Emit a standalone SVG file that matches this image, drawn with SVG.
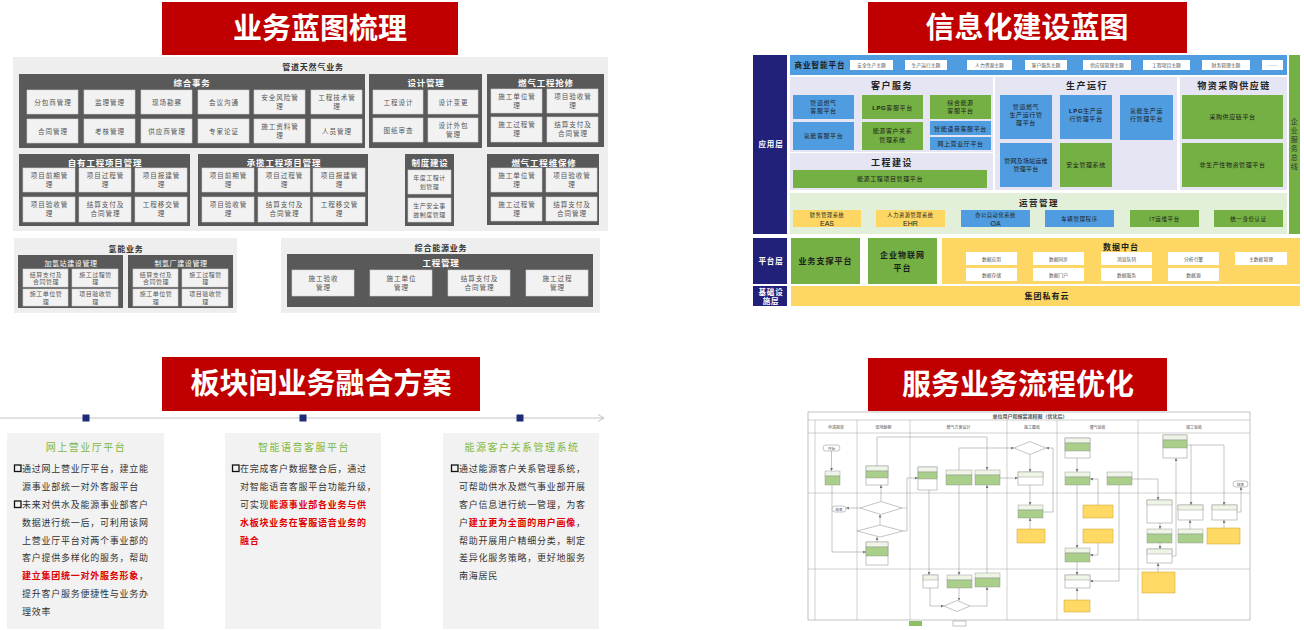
<svg xmlns="http://www.w3.org/2000/svg" width="1304" height="630" viewBox="0 0 1304 630">
<defs>
<style>
text{font-family:'Noto Sans CJK SC','Noto Sans',sans-serif}
.ttl{font-size:29px;font-weight:700;fill:#fff;text-anchor:middle}
.red{fill:#c00000}
.pbg{fill:#eeeeee}
.dk{fill:#595959}
.cl{fill:#f2f2f2;stroke:#d0d0d0;stroke-width:0.6}
.wt{font-size:8.5px;font-weight:700;fill:#fff;text-anchor:middle;letter-spacing:0.8px}
.wt2{font-size:7px;fill:#fff;text-anchor:middle;letter-spacing:0.6px}
.ct{font-size:6.6px;fill:#555;text-anchor:middle;letter-spacing:0.9px}
.ct2{font-size:6px;fill:#555;text-anchor:middle;letter-spacing:0.5px}
.gt{font-size:8px;font-weight:700;fill:#333;text-anchor:middle;letter-spacing:0.8px}
.navy{fill:#21217a}
.blu{fill:#4f9de0}
.grn{fill:#74b043}
.yel{fill:#fdd663}
.lav{fill:#e5e5f4}
.lgr{fill:#e2efd9}
.chip{fill:#fff}
.h1{font-size:9px;font-weight:700;fill:#222;text-anchor:middle;letter-spacing:1.5px}
.c6{font-size:6px;fill:#1c1c1c;text-anchor:middle;letter-spacing:0.6px}
.c7{font-size:8px;font-weight:700;fill:#1c1c1c;text-anchor:middle;letter-spacing:1px}
.cht{font-size:4.8px;fill:#555;text-anchor:middle}
.lat{font-family:'Liberation Sans',Arial,sans-serif;font-size:7px;fill:#1c1c1c;text-anchor:middle}
.nv{font-size:7.5px;font-weight:700;fill:#fff;text-anchor:middle;letter-spacing:0.8px}
.card{fill:#f2f2f2}
.ctit{font-size:10px;fill:#7db944;text-anchor:middle;letter-spacing:1.5px}
.bt{font-size:9px;fill:#333;letter-spacing:0.75px}
.rb{fill:#e00000;font-weight:700}
.cb{fill:none;stroke:#111;stroke-width:1.3}
.fr{fill:#fff;stroke:#9a9a9a;stroke-width:0.6}
.fl{stroke:#a0a0a0;stroke-width:0.5;fill:none}
.fb{fill:#fff;stroke:#888;stroke-width:0.5}
.fh{fill:#eef5e6;stroke:#888;stroke-width:0.4}
.fg{fill:#a9cf8a;stroke:#888;stroke-width:0.4}
.fy{fill:#ffd966;stroke:#c9a227;stroke-width:0.5}
.ft{font-size:4px;fill:#555;text-anchor:middle}
.fc{stroke:#8a8a8a;stroke-width:0.5;fill:none;marker-end:url(#ar)}
</style>
<marker id="ar" viewBox="0 0 6 6" refX="6" refY="3" markerWidth="3" markerHeight="3" markerUnits="userSpaceOnUse" orient="auto"><path d="M0,0 L6,3 L0,6 z" fill="#777"/></marker>
<marker id="chev" viewBox="0 0 8 8" refX="7" refY="4" markerWidth="8" markerHeight="8" markerUnits="userSpaceOnUse" orient="auto"><path d="M1,0.5 L7,4 L1,7.5" fill="none" stroke="#b5b5b5" stroke-width="0.8"/></marker>
</defs>
<rect width="1304" height="630" fill="#fff"/>

<!-- ===== Titles ===== -->
<g id="title1"><rect class="red" x="162" y="2" width="296" height="53"/><text class="ttl" x="320" y="39">业务蓝图梳理</text></g>
<g id="title2"><rect class="red" x="868" y="2" width="319" height="51"/><text class="ttl" x="1027" y="38">信息化建设蓝图</text></g>
<g id="title3"><rect class="red" x="162" y="357" width="318" height="54"/><text class="ttl" x="321" y="394">板块间业务融合方案</text></g>
<g id="title4"><rect class="red" x="868" y="358" width="299" height="53"/><text class="ttl" x="1018" y="395">服务业务流程优化</text></g>

<!-- ===== Panel 1: business blueprint ===== -->
<g id="p1-bg"><rect class="pbg" x="13" y="57" width="595" height="174"/><text class="gt" x="313" y="70">管道天然气业务</text></g>

<g id="p1-zhsw">
<rect class="dk" x="19" y="74" width="346" height="74"/><text class="wt" x="192" y="86">综合事务</text>
<rect class="cl" x="27" y="90" width="51" height="24"/><text class="ct" x="53" y="104.5">分包商管理</text>
<rect class="cl" x="84" y="90" width="51" height="24"/><text class="ct" x="110" y="104.5">监理管理</text>
<rect class="cl" x="141" y="90" width="51" height="24"/><text class="ct" x="167" y="104.5">现场勘察</text>
<rect class="cl" x="198" y="90" width="51" height="24"/><text class="ct" x="224" y="104.5">会议沟通</text>
<rect class="cl" x="254" y="90" width="51" height="24"/><text class="ct" x="280"><tspan x="280" y="100">安全风险管</tspan><tspan x="280" y="109">理</tspan></text>
<rect class="cl" x="311" y="90" width="51" height="24"/><text class="ct" x="337"><tspan x="337" y="100">工程技术管</tspan><tspan x="337" y="109">理</tspan></text>
<rect class="cl" x="27" y="119" width="51" height="24"/><text class="ct" x="53" y="133.5">合同管理</text>
<rect class="cl" x="84" y="119" width="51" height="24"/><text class="ct" x="110" y="133.5">考核管理</text>
<rect class="cl" x="141" y="119" width="51" height="24"/><text class="ct" x="167" y="133.5">供应商管理</text>
<rect class="cl" x="198" y="119" width="51" height="24"/><text class="ct" x="224" y="133.5">专家论证</text>
<rect class="cl" x="254" y="119" width="51" height="24"/><text class="ct" x="280"><tspan x="280" y="129">施工资料管</tspan><tspan x="280" y="138">理</tspan></text>
<rect class="cl" x="311" y="119" width="51" height="24"/><text class="ct" x="337" y="133.5">人员管理</text>
</g>

<g id="p1-sjgl">
<rect class="dk" x="369" y="74" width="113" height="74"/><text class="wt" x="426" y="86">设计管理</text>
<rect class="cl" x="373" y="90" width="50" height="24"/><text class="ct" x="398.5" y="104.5">工程设计</text>
<rect class="cl" x="428" y="90" width="50" height="24"/><text class="ct" x="453.5" y="104.5">设计变更</text>
<rect class="cl" x="373" y="118" width="50" height="24"/><text class="ct" x="398.5" y="132.5">图纸审查</text>
<rect class="cl" x="428" y="118" width="50" height="24"/><text class="ct" x="453.5"><tspan x="453.5" y="128">设计外包</tspan><tspan x="453.5" y="137">管理</tspan></text>
</g>

<g id="p1-qx">
<rect class="dk" x="487" y="74" width="117" height="73"/><text class="wt" x="546" y="86">燃气工程抢修</text>
<rect class="cl" x="491" y="89" width="51" height="24"/><text class="ct" x="517"><tspan x="517" y="99">施工单位管</tspan><tspan x="517" y="108">理</tspan></text>
<rect class="cl" x="547" y="89" width="51" height="24"/><text class="ct" x="573"><tspan x="573" y="99">项目验收管</tspan><tspan x="573" y="108">理</tspan></text>
<rect class="cl" x="491" y="117" width="51" height="25"/><text class="ct" x="517"><tspan x="517" y="127">施工过程管</tspan><tspan x="517" y="136">理</tspan></text>
<rect class="cl" x="547" y="117" width="51" height="25"/><text class="ct" x="573"><tspan x="573" y="127">结算支付及</tspan><tspan x="573" y="136">合同管理</tspan></text>
</g>

<g id="p1-zy">
<rect class="dk" x="19" y="154" width="171" height="72"/><text class="wt" x="105" y="166">自有工程项目管理</text>
<rect class="cl" x="23" y="168" width="52" height="24"/><text class="ct" x="49.5"><tspan x="49.5" y="178">项目前期管</tspan><tspan x="49.5" y="187">理</tspan></text>
<rect class="cl" x="79" y="168" width="52" height="24"/><text class="ct" x="105.5"><tspan x="105.5" y="178">项目过程管</tspan><tspan x="105.5" y="187">理</tspan></text>
<rect class="cl" x="135" y="168" width="52" height="24"/><text class="ct" x="161.5"><tspan x="161.5" y="178">项目报建管</tspan><tspan x="161.5" y="187">理</tspan></text>
<rect class="cl" x="23" y="197" width="52" height="25"/><text class="ct" x="49.5"><tspan x="49.5" y="207">项目验收管</tspan><tspan x="49.5" y="216">理</tspan></text>
<rect class="cl" x="79" y="197" width="52" height="25"/><text class="ct" x="105.5"><tspan x="105.5" y="207">结算支付及</tspan><tspan x="105.5" y="216">合同管理</tspan></text>
<rect class="cl" x="135" y="197" width="52" height="25"/><text class="ct" x="161.5"><tspan x="161.5" y="207">工程移交管</tspan><tspan x="161.5" y="216">理</tspan></text>
</g>

<g id="p1-cl">
<rect class="dk" x="198" y="154" width="170" height="72"/><text class="wt" x="284" y="166">承揽工程项目管理</text>
<rect class="cl" x="202" y="168" width="52" height="24"/><text class="ct" x="228.5"><tspan x="228.5" y="178">项目前期管</tspan><tspan x="228.5" y="187">理</tspan></text>
<rect class="cl" x="258" y="168" width="52" height="24"/><text class="ct" x="284.5"><tspan x="284.5" y="178">项目过程管</tspan><tspan x="284.5" y="187">理</tspan></text>
<rect class="cl" x="313" y="168" width="52" height="24"/><text class="ct" x="339.5"><tspan x="339.5" y="178">项目报建管</tspan><tspan x="339.5" y="187">理</tspan></text>
<rect class="cl" x="202" y="197" width="52" height="25"/><text class="ct" x="228.5"><tspan x="228.5" y="207">项目验收管</tspan><tspan x="228.5" y="216">理</tspan></text>
<rect class="cl" x="258" y="197" width="52" height="25"/><text class="ct" x="284.5"><tspan x="284.5" y="207">结算支付及</tspan><tspan x="284.5" y="216">合同管理</tspan></text>
<rect class="cl" x="313" y="197" width="52" height="25"/><text class="ct" x="339.5"><tspan x="339.5" y="207">工程移交管</tspan><tspan x="339.5" y="216">理</tspan></text>
</g>

<g id="p1-zd">
<rect class="dk" x="405" y="154" width="49" height="72"/><text class="wt" x="430" y="166">制度建设</text>
<rect class="cl" x="408" y="170" width="43" height="24"/><text class="ct2" x="429.5"><tspan x="429.5" y="180">年度工程计</tspan><tspan x="429.5" y="189">划管理</tspan></text>
<rect class="cl" x="408" y="198" width="43" height="24"/><text class="ct2" x="429.5"><tspan x="429.5" y="208">生产安全事</tspan><tspan x="429.5" y="217">故制度管理</tspan></text>
</g>

<g id="p1-wb">
<rect class="dk" x="487" y="154" width="112" height="71"/><text class="wt" x="544" y="166">燃气工程维保修</text>
<rect class="cl" x="491" y="168" width="51" height="24"/><text class="ct" x="517"><tspan x="517" y="178">施工单位管</tspan><tspan x="517" y="187">理</tspan></text>
<rect class="cl" x="546" y="168" width="51" height="24"/><text class="ct" x="572"><tspan x="572" y="178">项目验收管</tspan><tspan x="572" y="187">理</tspan></text>
<rect class="cl" x="491" y="197" width="51" height="24"/><text class="ct" x="517"><tspan x="517" y="207">施工过程管</tspan><tspan x="517" y="216">理</tspan></text>
<rect class="cl" x="546" y="197" width="51" height="24"/><text class="ct" x="572"><tspan x="572" y="207">结算支付及</tspan><tspan x="572" y="216">合同管理</tspan></text>
</g>

<g id="p1-qn">
<rect class="pbg" x="14" y="238" width="223" height="75"/><text class="gt" x="126" y="252">氢能业务</text>
<rect class="dk" x="18" y="255" width="105" height="53"/><text class="wt2" x="71" y="266">加氢站建设管理</text>
<rect class="cl" x="23" y="269" width="45" height="18"/><text class="ct2" x="46"><tspan x="46" y="276.5">结算支付及</tspan><tspan x="46" y="284">合同管理</tspan></text>
<rect class="cl" x="72" y="269" width="46" height="18"/><text class="ct2" x="95.5"><tspan x="95.5" y="276.5">施工过程管</tspan><tspan x="95.5" y="284">理</tspan></text>
<rect class="cl" x="23" y="289" width="45" height="17"/><text class="ct2" x="46"><tspan x="46" y="296">施工单位管</tspan><tspan x="46" y="303.5">理</tspan></text>
<rect class="cl" x="72" y="289" width="46" height="17"/><text class="ct2" x="95.5"><tspan x="95.5" y="296">项目验收管</tspan><tspan x="95.5" y="303.5">理</tspan></text>
<rect class="dk" x="128" y="255" width="105" height="53"/><text class="wt2" x="181" y="266">制氢厂建设管理</text>
<rect class="cl" x="133" y="269" width="45" height="18"/><text class="ct2" x="156"><tspan x="156" y="276.5">结算支付及</tspan><tspan x="156" y="284">合同管理</tspan></text>
<rect class="cl" x="182" y="269" width="46" height="18"/><text class="ct2" x="205.5"><tspan x="205.5" y="276.5">施工过程管</tspan><tspan x="205.5" y="284">理</tspan></text>
<rect class="cl" x="133" y="289" width="45" height="17"/><text class="ct2" x="156"><tspan x="156" y="296">施工单位管</tspan><tspan x="156" y="303.5">理</tspan></text>
<rect class="cl" x="182" y="289" width="46" height="17"/><text class="ct2" x="205.5"><tspan x="205.5" y="296">项目验收管</tspan><tspan x="205.5" y="303.5">理</tspan></text>
</g>

<g id="p1-zhny">
<rect class="pbg" x="281" y="238" width="319" height="75"/><text class="gt" x="441" y="251">综合能源业务</text>
<rect class="dk" x="287" y="254" width="306" height="53"/><text class="wt" x="441" y="266">工程管理</text>
<rect class="cl" x="292" y="270" width="62" height="26"/><text class="ct" x="323.5"><tspan x="323.5" y="281">施工验收</tspan><tspan x="323.5" y="290">管理</tspan></text>
<rect class="cl" x="370" y="270" width="62" height="26"/><text class="ct" x="401.5"><tspan x="401.5" y="281">施工单位</tspan><tspan x="401.5" y="290">管理</tspan></text>
<rect class="cl" x="448" y="270" width="62" height="26"/><text class="ct" x="479.5"><tspan x="479.5" y="281">结算支付及</tspan><tspan x="479.5" y="290">合同管理</tspan></text>
<rect class="cl" x="526" y="270" width="62" height="26"/><text class="ct" x="557.5"><tspan x="557.5" y="281">施工过程</tspan><tspan x="557.5" y="290">管理</tspan></text>
</g>

<!-- ===== Panel 2: IT blueprint ===== -->
<g id="p2-layers">
<rect class="navy" x="753" y="55" width="34" height="179"/><text class="nv" x="771" y="147">应用层</text>
<rect class="navy" x="753" y="238" width="34" height="46"/><text class="nv" x="771" y="264">平台层</text>
<rect class="navy" x="753" y="286" width="34" height="20"/><text class="nv" x="771"><tspan x="771" y="294.5">基础设</tspan><tspan x="771" y="303.5">施层</tspan></text>
</g>

<g id="p2-bus">
<rect class="grn" x="1289" y="55" width="11" height="179"/>
<text class="c6" style="font-size:7px;fill:#333"><tspan x="1294.5" y="124">企</tspan><tspan x="1294.5" y="133">业</tspan><tspan x="1294.5" y="142">服</tspan><tspan x="1294.5" y="151">务</tspan><tspan x="1294.5" y="160">总</tspan><tspan x="1294.5" y="169">线</tspan></text>
</g>

<g id="p2-bi">
<rect class="blu" x="790" y="55" width="497" height="20"/>
<text class="c7" x="820" y="68" style="font-size:7.5px">商业智能平台</text>
<rect class="chip" x="850" y="60" width="43" height="10"/><text class="cht" x="871.5" y="66.7">安全生产主题</text>
<rect class="chip" x="905" y="60" width="42" height="10"/><text class="cht" x="926" y="66.7">生产运行主题</text>
<rect class="chip" x="967" y="60" width="45" height="10"/><text class="cht" x="989.5" y="66.7">人力资源主题</text>
<rect class="chip" x="1025" y="60" width="42" height="10"/><text class="cht" x="1046" y="66.7">客户服务主题</text>
<rect class="chip" x="1083" y="60" width="48" height="10"/><text class="cht" x="1107" y="66.7">供应链管理主题</text>
<rect class="chip" x="1143" y="60" width="47" height="10"/><text class="cht" x="1166.5" y="66.7">工程项目主题</text>
<rect class="chip" x="1202" y="60" width="48" height="10"/><text class="cht" x="1226" y="66.7">财务管理主题</text>
<rect class="chip" x="1262" y="60" width="21" height="10"/><text class="cht" x="1272.5" y="66.7">……</text>
</g>

<g id="p2-kffw">
<rect class="lav" x="790" y="77" width="203" height="75"/><text class="h1" x="892" y="89">客户服务</text>
<rect class="blu" x="793" y="95" width="61" height="24"/><text class="c6" x="823.5"><tspan x="823.5" y="105">管道燃气</tspan><tspan x="823.5" y="113">客服平台</tspan></text>
<rect class="grn" x="862" y="95" width="61" height="24"/><text class="c6" x="892.5" y="109.5"><tspan font-family="'Liberation Sans',sans-serif" font-weight="700">LPG</tspan>客服平台</text>
<rect class="grn" x="930" y="95" width="61" height="24"/><text class="c6" x="960.5"><tspan x="960.5" y="105">综合能源</tspan><tspan x="960.5" y="113">客服平台</tspan></text>
<rect class="blu" x="793" y="122" width="61" height="28"/><text class="c6" x="823.5" y="138">氢能客服平台</text>
<rect class="grn" x="862" y="122" width="61" height="28"/><text class="c6" x="892.5"><tspan x="892.5" y="133">能源客户关系</tspan><tspan x="892.5" y="142">管理系统</tspan></text>
<rect class="blu" x="930" y="121" width="61" height="14"/><text class="c6" x="960.5" y="130.5">智能语音客服平台</text>
<rect class="blu" x="930" y="137" width="61" height="13"/><text class="c6" x="960.5" y="145.8">网上营业厅平台</text>
</g>

<g id="p2-gcjs">
<rect class="lav" x="790" y="153" width="203" height="37"/><text class="h1" x="892" y="166">工程建设</text>
<rect class="grn" x="793" y="170" width="194" height="18"/><text class="c6" x="890" y="181">能源工程项目管理平台</text>
</g>

<g id="p2-scyx">
<rect class="lav" x="995" y="77" width="182" height="113"/><text class="h1" x="1087" y="89">生产运行</text>
<rect class="blu" x="1000" y="95" width="52" height="44"/><text class="c6" x="1026"><tspan x="1026" y="109">管道燃气</tspan><tspan x="1026" y="117">生产运行管</tspan><tspan x="1026" y="125">理平台</tspan></text>
<rect class="blu" x="1060" y="95" width="52" height="44"/><text class="c6" x="1086"><tspan x="1086" y="113"><tspan font-family="'Liberation Sans',sans-serif" font-weight="700">LPG</tspan>生产运</tspan><tspan x="1086" y="121">行管理平台</tspan></text>
<rect class="blu" x="1120" y="95" width="53" height="45"/><text class="c6" x="1146.5"><tspan x="1146.5" y="113">氢能生产运</tspan><tspan x="1146.5" y="121">行管理平台</tspan></text>
<rect class="blu" x="1000" y="143" width="52" height="44"/><text class="c6" x="1026" style="letter-spacing:0.2px"><tspan x="1026" y="163">管网及场站运维</tspan><tspan x="1026" y="171">管理平台</tspan></text>
<rect class="grn" x="1060" y="143" width="52" height="44"/><text class="c6" x="1086" y="167">安全管理系统</text>
</g>

<g id="p2-wzcg">
<rect class="lav" x="1180" y="77" width="107" height="113"/><text class="h1" x="1234" y="89">物资采购供应链</text>
<rect class="grn" x="1182" y="95" width="101" height="44"/><text class="c6" x="1232.5" y="119">采购供应链平台</text>
<rect class="grn" x="1182" y="143" width="101" height="44"/><text class="c6" x="1232.5" y="167">非生产性物资管理平台</text>
</g>

<g id="p2-yygl">
<rect class="lgr" x="790" y="193" width="497" height="41"/><text class="h1" x="1039" y="206" style="font-size:8.5px">运营管理</text>
<rect class="yel" x="793" y="210" width="68" height="17"/><text class="c6" x="827" y="217" style="font-size:5.2px">财务管理系统</text><text class="lat" x="827" y="225.5">EAS</text>
<rect class="yel" x="876" y="210" width="69" height="17"/><text class="c6" x="910.5" y="217" style="font-size:5.2px">人力资源管理系统</text><text class="lat" x="910.5" y="225.5">EHR</text>
<rect class="blu" x="961" y="210" width="69" height="17"/><text class="c6" x="995.5" y="217" style="font-size:5.2px">办公自动化系统</text><text class="lat" x="995.5" y="225.5">OA</text>
<rect class="blu" x="1045" y="210" width="69" height="17"/><text class="c6" x="1079.5" y="220.5" style="font-size:5.5px">车辆管理程序</text>
<rect class="grn" x="1130" y="210" width="69" height="17"/><text class="c6" x="1164.5" y="220.5" style="font-size:5.5px"><tspan font-family="'Liberation Sans',sans-serif">IT</tspan>运维平台</text>
<rect class="grn" x="1214" y="210" width="69" height="17"/><text class="c6" x="1248.5" y="220.5" style="font-size:5.5px">统一身份认证</text>
</g>

<g id="p2-ptc">
<rect class="grn" x="791" y="238" width="69" height="46"/><text class="c7" x="825.5" y="264">业务支撑平台</text>
<rect class="grn" x="868" y="238" width="69" height="46"/><text class="c7" x="902.5"><tspan x="902.5" y="258">企业物联网</tspan><tspan x="902.5" y="271">平台</tspan></text>
</g>

<g id="p2-sjzt">
<rect class="yel" x="942" y="238" width="358" height="46"/><text class="c7" x="1121" y="250">数据中台</text>
<rect class="chip" x="966" y="252" width="51" height="13"/><text class="cht" x="991.5" y="260.5">数据应用</text>
<rect class="chip" x="1033" y="252" width="51" height="13"/><text class="cht" x="1058.5" y="260.5">数据同步</text>
<rect class="chip" x="1101" y="252" width="51" height="13"/><text class="cht" x="1126.5" y="260.5">消息队列</text>
<rect class="chip" x="1168" y="252" width="51" height="13"/><text class="cht" x="1193.5" y="260.5">分析引擎</text>
<rect class="chip" x="1235" y="252" width="52" height="13"/><text class="cht" x="1261" y="260.5">主数据管理</text>
<rect class="chip" x="966" y="268" width="51" height="13"/><text class="cht" x="991.5" y="276.5">数据存储</text>
<rect class="chip" x="1033" y="268" width="51" height="13"/><text class="cht" x="1058.5" y="276.5">数据门户</text>
<rect class="chip" x="1101" y="268" width="51" height="13"/><text class="cht" x="1126.5" y="276.5">数据服务</text>
<rect class="chip" x="1168" y="268" width="51" height="13"/><text class="cht" x="1193.5" y="276.5">数据源</text>
</g>

<g id="p2-cloud">
<rect class="yel" x="791" y="286" width="509" height="20"/><text class="c7" x="1047" y="299">集团私有云</text>
</g>

<!-- ===== Panel 3: integration ===== -->
<g id="p3-timeline">
<line x1="0" y1="418" x2="604" y2="418" stroke="#c4c4c4" stroke-width="1" marker-end="url(#chev)"/>
<rect x="82.5" y="414.5" width="7" height="7" fill="#1f2a78"/>
<rect x="299.5" y="414.5" width="7" height="7" fill="#1f2a78"/>
<rect x="516.5" y="414.5" width="7" height="7" fill="#1f2a78"/>
</g>

<g id="p3-card1">
<rect class="card" x="7" y="433" width="157" height="196"/>
<text class="ctit" x="86" y="451">网上营业厅平台</text>
<rect class="cb" x="14.5" y="465" width="6.5" height="6.5"/>
<rect class="cb" x="14.5" y="501" width="6.5" height="6.5"/>
<text class="bt" x="22">
<tspan x="22" y="471.5">通过网上营业厅平台，建立能</tspan>
<tspan x="22" y="489.5">源事业部统一对外客服平台</tspan>
<tspan x="22" y="507.5">未来对供水及能源事业部客户</tspan>
<tspan x="22" y="525.5">数据进行统一后，可利用该网</tspan>
<tspan x="22" y="543.5">上营业厅平台对两个事业部的</tspan>
<tspan x="22" y="561">客户提供多样化的服务，帮助</tspan>
<tspan x="22" y="579"><tspan class="rb">建立集团统一对外服务形象</tspan>，</tspan>
<tspan x="22" y="597">提升客户服务便捷性与业务办</tspan>
<tspan x="22" y="615">理效率</tspan>
</text>
</g>

<g id="p3-card2">
<rect class="card" x="225" y="433" width="156" height="196"/>
<text class="ctit" x="304" y="451">智能语音客服平台</text>
<rect class="cb" x="232.5" y="465" width="6.5" height="6.5"/>
<text class="bt" x="240">
<tspan x="240" y="471.5">在完成客户数据整合后，通过</tspan>
<tspan x="240" y="489.5">对智能语音客服平台功能升级，</tspan>
<tspan x="240" y="507.5">可实现<tspan class="rb">能源事业部各业务与供</tspan></tspan>
<tspan x="240" y="525.5" class="rb">水板块业务在客服语音业务的</tspan>
<tspan x="240" y="543.5" class="rb">融合</tspan>
</text>
</g>

<g id="p3-card3">
<rect class="card" x="443" y="433" width="156" height="196"/>
<text class="ctit" x="522" y="451">能源客户关系管理系统</text>
<rect class="cb" x="451.5" y="465" width="6.5" height="6.5"/>
<text class="bt" x="459">
<tspan x="459" y="471.5">通过能源客户关系管理系统，</tspan>
<tspan x="459" y="489.5">可帮助供水及燃气事业部开展</tspan>
<tspan x="459" y="507.5">客户信息进行统一管理，为客</tspan>
<tspan x="459" y="525.5">户<tspan class="rb">建立更为全面的用户画像</tspan>，</tspan>
<tspan x="459" y="543.5">帮助开展用户精细分类，制定</tspan>
<tspan x="459" y="561">差异化服务策略，更好地服务</tspan>
<tspan x="459" y="579">南海居民</tspan>
</text>
</g>

<!-- ===== Panel 4: flowchart ===== -->
<g id="p4-frame">
<rect class="fr" x="808" y="412" width="442" height="208"/>
<line class="fl" x1="808" y1="420" x2="1250" y2="420"/>
<line class="fl" x1="808" y1="433" x2="1250" y2="433"/>
<line class="fl" x1="808" y1="493" x2="1250" y2="493"/>
<line class="fl" x1="808" y1="569" x2="1250" y2="569"/>
<line class="fl" x1="815" y1="420" x2="815" y2="620"/>
<line class="fl" x1="857" y1="420" x2="857" y2="620"/>
<line class="fl" x1="910" y1="420" x2="910" y2="620"/>
<line class="fl" x1="1007" y1="420" x2="1007" y2="620"/>
<line class="fl" x1="1057" y1="420" x2="1057" y2="620"/>
<line class="fl" x1="1138" y1="420" x2="1138" y2="620"/>
<text class="ft" x="1030" y="418" style="font-size:5px;font-weight:700">单位用户和报装流程图（优化后）</text>
<text class="ft" x="836" y="428.5">申请报装</text>
<text class="ft" x="883.5" y="428.5">现场勘察</text>
<text class="ft" x="958.5" y="428.5">燃气方案设计</text>
<text class="ft" x="1032" y="428.5">施工图纸</text>
<text class="ft" x="1097.5" y="428.5">通气验收</text>
<text class="ft" x="1194" y="428.5">竣工验收</text>
</g>

<g id="p4-legend">
<rect x="909" y="621" width="13" height="5" fill="#8dc063"/>
<rect x="953" y="621" width="13" height="5" fill="#fff" stroke="#888" stroke-width="0.5"/>
</g>

<g id="p4-connectors">
<path class="fc" d="M831.5,451 V471"/>
<path class="fc" d="M832,485 V552 H866"/>
<path class="fc" d="M877,542 V537"/>
<path class="fc" d="M880,525 V514.5"/>
<path class="fc" d="M860,508 H846"/>
<path class="fc" d="M881,501.5 V485"/>
<path class="fc" d="M877,466 V437 H987 V470"/>
<path class="fc" d="M903,531 H907 V478 H918"/>
<path class="fl" d="M902,508 H907"/>
<path class="fc" d="M929,490 V575"/>
<path class="fc" d="M930,588 V606 H944"/>
<path class="fc" d="M959,485 V575"/>
<path class="fc" d="M959,588 V600.5"/>
<path class="fc" d="M970,606 H987 V587"/>
<path class="fc" d="M987,573 V485"/>
<path class="fc" d="M959,470 V448 H1014"/>
<path class="fc" d="M1030,454.5 V472"/>
<path class="fc" d="M1030,485 V505"/>
<path class="fc" d="M1030,529 V518"/>
<path class="fc" d="M1043,512 H1053 V448 H1046"/>
<path class="fc" d="M1000,478 H1018"/>
<path class="fc" d="M1077,458 V472"/>
<path class="fc" d="M1077,485 V548"/>
<path class="fc" d="M1077,562 V575"/>
<path class="fc" d="M1077,600 V588"/>
<path class="fc" d="M1098,505 V479 H1090"/>
<path class="fc" d="M1098,543 V555 H1090"/>
<path class="fc" d="M1119,485 V581 H1090"/>
<path class="fc" d="M1132,479 H1158 V500"/>
<path class="fc" d="M1160,523 V529"/>
<path class="fc" d="M1160,543 V549"/>
<path class="fc" d="M1158,572 V563"/>
<path class="fc" d="M1172,556 H1176 V458"/>
<path class="fc" d="M1187,445 H1224 V505"/>
<path class="fc" d="M1191,445 V505"/>
<path class="fc" d="M1190,529 V520"/>
<path class="fc" d="M1224,528 V520"/>
<path class="fc" d="M1237,512 H1241 V487"/>
</g>

<g id="f-start"><rect class="fb" x="823" y="445" width="17" height="6" rx="3"/><text class="ft" x="831.5" y="449.5" style="font-size:3.5px">开始</text></g>
<g id="f-n2"><rect class="fh" x="825" y="471" width="15" height="5"/><rect class="fg" x="825" y="476" width="15" height="9"/></g>
<g id="f-n3"><rect class="fb" x="866" y="466" width="22" height="19"/><rect class="fh" x="866" y="466" width="22" height="5"/><rect class="fg" x="866" y="471" width="22" height="7"/></g>
<g id="f-d1"><polygon class="fb" points="860,508 881,501.5 902,508 881,514.5"/></g>
<g id="f-end1"><rect class="fb" x="832" y="506" width="14" height="6" rx="3"/><text class="ft" x="839" y="510.5" style="font-size:3.5px">结束</text></g>
<g id="f-d2"><polygon class="fb" points="857,531 880,525 903,531 880,537"/></g>
<g id="f-n4"><rect class="fb" x="866" y="542" width="22" height="23"/><rect class="fh" x="866" y="542" width="22" height="5"/><rect class="fg" x="866" y="547" width="22" height="9"/></g>
<g id="f-n5"><rect class="fb" x="918" y="467" width="19" height="23"/><rect class="fh" x="918" y="467" width="19" height="5"/><rect class="fg" x="918" y="472" width="19" height="7"/></g>
<g id="f-n6"><rect class="fh" x="946" y="470" width="26" height="5"/><rect class="fg" x="946" y="475" width="26" height="10"/></g>
<g id="f-n7"><rect class="fh" x="975" y="470" width="25" height="5"/><rect class="fg" x="975" y="475" width="25" height="10"/></g>
<g id="f-n8"><rect class="fb" x="923" y="575" width="15" height="13"/><rect class="fh" x="923" y="575" width="15" height="5"/></g>
<g id="f-n9"><rect class="fh" x="947" y="575" width="25" height="5"/><rect class="fg" x="947" y="580" width="25" height="8"/></g>
<g id="f-d3"><polygon class="fb" points="944,606 957,600.5 970,606 957,611.5"/></g>
<g id="f-n10"><rect class="fh" x="975" y="573" width="25" height="5"/><rect class="fg" x="975" y="578" width="25" height="9"/></g>
<g id="f-d4"><polygon class="fb" points="1014,448 1030,441.5 1046,448 1030,454.5"/></g>
<g id="f-n11"><rect class="fb" x="1018" y="472" width="25" height="13"/><rect class="fh" x="1018" y="472" width="25" height="5"/></g>
<g id="f-n12"><rect class="fh" x="1018" y="505" width="25" height="5"/><rect class="fg" x="1018" y="510" width="25" height="8"/></g>
<g id="f-y1"><rect class="fy" x="1017" y="529" width="28" height="14"/></g>
<g id="f-n13"><rect class="fb" x="1065" y="438" width="25" height="20"/><rect class="fh" x="1065" y="438" width="25" height="5"/><rect class="fg" x="1065" y="443" width="25" height="8"/></g>
<g id="f-n14"><rect class="fh" x="1065" y="472" width="25" height="5"/><rect class="fg" x="1065" y="477" width="25" height="8"/></g>
<g id="f-n15"><rect class="fh" x="1107" y="472" width="25" height="5"/><rect class="fg" x="1107" y="477" width="25" height="8"/></g>
<g id="f-y2"><rect class="fy" x="1083" y="505" width="30" height="13"/></g>
<g id="f-y3"><rect class="fy" x="1083" y="529" width="30" height="14"/></g>
<g id="f-n16"><rect class="fh" x="1065" y="548" width="25" height="5"/><rect class="fg" x="1065" y="553" width="25" height="9"/></g>
<g id="f-n17"><rect class="fb" x="1065" y="575" width="25" height="13"/><rect class="fh" x="1065" y="575" width="25" height="5"/></g>
<g id="f-y4"><rect class="fy" x="1064" y="600" width="26" height="12"/></g>
<g id="f-y5"><rect class="fy" x="1142" y="572" width="33" height="21"/></g>
<g id="f-n18"><rect class="fb" x="1163" y="435" width="24" height="23"/><rect class="fh" x="1163" y="435" width="24" height="5"/><rect class="fg" x="1163" y="440" width="24" height="8"/></g>
<g id="f-n19"><rect class="fb" x="1147" y="500" width="25" height="23"/><rect class="fh" x="1147" y="500" width="25" height="5"/></g>
<g id="f-n20"><rect class="fh" x="1147" y="529" width="25" height="5"/><rect class="fg" x="1147" y="534" width="25" height="9"/></g>
<g id="f-n21"><rect class="fb" x="1147" y="549" width="25" height="14"/><rect class="fh" x="1147" y="549" width="25" height="5"/></g>
<g id="f-n22"><rect class="fb" x="1178" y="505" width="25" height="15"/><rect class="fh" x="1178" y="505" width="25" height="5"/></g>
<g id="f-n23"><rect class="fh" x="1178" y="529" width="25" height="5"/><rect class="fg" x="1178" y="534" width="25" height="9"/></g>
<g id="f-n24"><rect class="fb" x="1212" y="505" width="25" height="15"/><rect class="fh" x="1212" y="505" width="25" height="5"/></g>
<g id="f-y6"><rect class="fy" x="1207" y="528" width="33" height="16"/></g>
<g id="f-end2"><rect class="fb" x="1233" y="481" width="15" height="6" rx="3"/><text class="ft" x="1240.5" y="485.5" style="font-size:3.5px">结束</text></g>
</svg>
